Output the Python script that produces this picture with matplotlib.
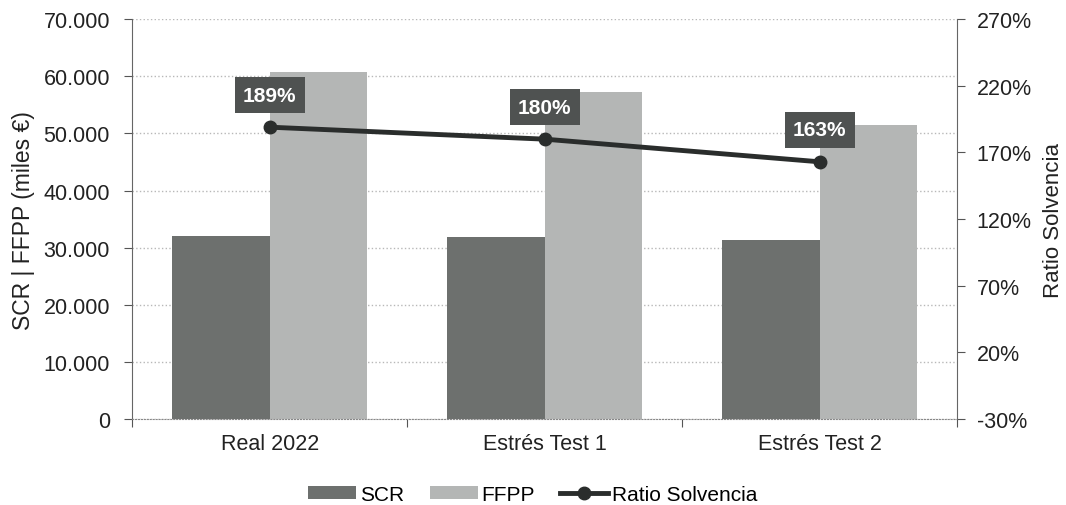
import numpy as np
import matplotlib
matplotlib.use("Agg")
import matplotlib.pyplot as plt
from matplotlib.ticker import FuncFormatter, FixedLocator

plt.rcParams['font.family'] = ['Liberation Sans', 'DejaVu Sans']

categories = ['Real 2022', 'Estrés Test 1', 'Estrés Test 2']
scr = [32000, 31800, 31400]
ffpp = [60700, 57200, 51400]
ratio = [189, 180, 163]
ratio_labels = ['189%', '180%', '163%']

c_scr = '#6d706e'
c_ffpp = '#b4b6b5'
c_line = '#2a2d2c'
c_box = '#4f5251'
c_grid = '#b8b8b8'

fig = plt.figure(figsize=(10.66, 5.06), dpi=100)
ax = fig.add_axes([0.124, 0.170, 0.774, 0.790])
x = np.arange(len(categories))
w = 0.355

ax.bar(x - w / 2, scr, w, color=c_scr, label='SCR', zorder=2)
ax.bar(x + w / 2, ffpp, w, color=c_ffpp, label='FFPP', zorder=2)

ax.set_ylim(0, 70000)
ax.set_yticks(np.arange(0, 70001, 10000))
ax.yaxis.set_major_formatter(FuncFormatter(lambda v, p: f'{int(v):,}'.replace(',', '.')))
ax.set_xlim(-0.5, 2.5)
ax.xaxis.set_major_locator(FixedLocator([-0.5, 0.5, 1.5, 2.5]))
ax.xaxis.set_major_formatter(FuncFormatter(lambda v, p: ''))
ax.xaxis.set_minor_locator(FixedLocator(x))
ax.set_xticklabels(categories, minor=True)
ax.tick_params(axis='x', which='minor', length=0, pad=10, labelsize=15.5, colors='#222222')
ax.tick_params(axis='x', which='major', length=6, color='#555555')
ax.tick_params(axis='y', labelsize=15.5, length=6, pad=10, color='#555555', labelcolor='#222222')
ax.grid(axis='y', linestyle=':', color=c_grid, linewidth=1.0, zorder=0)
ax.set_axisbelow(True)
for s in ['top', 'right']:
    ax.spines[s].set_visible(False)
ax.spines['left'].set_color('#666666')
ax.spines['bottom'].set_color('#888888')
ax.spines['bottom'].set_linestyle(':')
ax.set_ylabel('SCR | FFPP (miles €)', fontsize=16.5, color='#222222', labelpad=6)

ax2 = ax.twinx()
ax2.plot(x, ratio, color=c_line, linewidth=3.5, marker='o', markersize=9,
         label='Ratio Solvencia', zorder=4)
ax2.set_ylim(-30, 270)
ax2.set_yticks(np.arange(-30, 271, 50))
ax2.yaxis.set_major_formatter(FuncFormatter(lambda v, p: f'{int(v)}%'))
ax2.tick_params(axis='y', labelsize=15.5, length=6, pad=8, color='#555555', labelcolor='#222222')
for s in ['top', 'left', 'bottom']:
    ax2.spines[s].set_visible(False)
ax2.spines['right'].set_color('#666666')
ax2.set_ylabel('Ratio Solvencia', fontsize=16, color='#222222', labelpad=8)

for xi, r, lab in zip(x, ratio, ratio_labels):
    ax2.annotate(lab, (xi, r), xytext=(0, 23), textcoords='offset points',
                 ha='center', va='center', fontsize=15, fontweight='bold',
                 color='white', zorder=5,
                 bbox=dict(boxstyle='square,pad=0.4', fc=c_box, ec='none'))

h1, l1 = ax.get_legend_handles_labels()
h2, l2 = ax2.get_legend_handles_labels()
fig.legend(h1 + h2, l1 + l2, loc='lower center', bbox_to_anchor=(0.5, -0.035),
           ncol=3, frameon=False, fontsize=15, handlelength=2.3, handleheight=0.6,
           handletextpad=0.2, columnspacing=1.2)

fig.savefig('out.png', dpi=100, facecolor='white')
